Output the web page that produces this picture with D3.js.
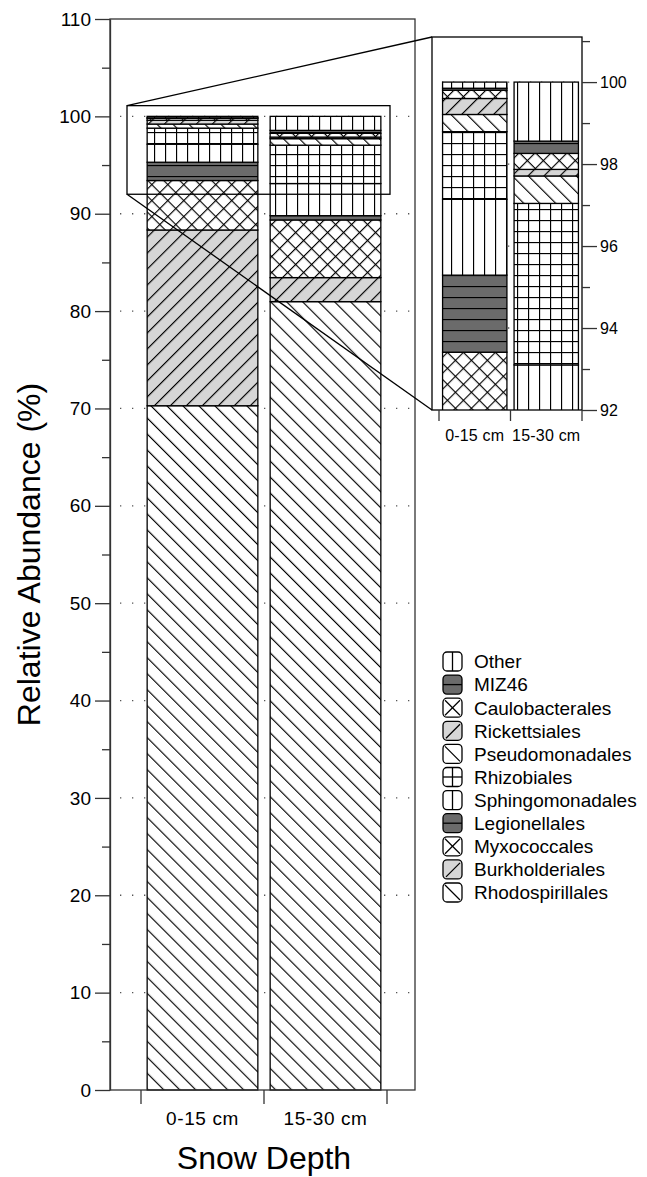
<!DOCTYPE html>
<html><head><meta charset="utf-8">
<script src="https://cdn.jsdelivr.net/npm/d3@7"></script>
<style>
body{margin:0;background:#fff}
svg{display:block}
text{font-family:"Liberation Sans",Arial,Helvetica,sans-serif;fill:#000}
</style>
</head><body>
<svg id="c" width="647" height="1177"></svg>
<script>
// ---------- data ----------
const categories = ["0-15 cm", "15-30 cm"];
const seriesNames = ["Rhodospirillales","Burkholderiales","Myxococcales","Legionellales","Sphingomonadales","Rhizobiales","Pseudomonadales","Rickettsiales","Caulobacterales","MIZ46","Other"];
const rhodospirillales = [70.28, 80.97];
const burkholderiales  = [18.05, 2.47];
const myxococcales     = [5.08, 5.92];
const legionellales    = [1.88, 0.44];
const sphingomonadales = [1.85, 3.30];
const rhizobiales      = [1.65, 3.94];
const pseudomonadales  = [0.42, 0.67];
const rickettsiales    = [0.39, 0.16];
const caulobacterales  = [0.20, 0.39];
const miz46            = [0.05, 0.30];
const other            = [0.15, 1.44];
const seriesValues = [rhodospirillales,burkholderiales,myxococcales,legionellales,sphingomonadales,rhizobiales,pseudomonadales,rickettsiales,caulobacterales,miz46,other];
const yTicks = [0,10,20,30,40,50,60,70,80,90,100,110];
const yMinorTicks = [5,15,25,35,45,55,65,75,85,95,105];
const insetTicks = [92,94,96,98,100];
const insetMinorTicks = [93,95,97,99,101];
const insetRange = [92, 101.1];

// ---------- styles ----------
const kindOf = {Rhodospirillales:"back",Burkholderiales:"fwd",Myxococcales:"cross",Legionellales:"dark",Sphingomonadales:"vert",Rhizobiales:"grid",Pseudomonadales:"back",Rickettsiales:"fwd",Caulobacterales:"cross",MIZ46:"dark",Other:"vert"};
const LIGHT = "#d6d6d6", DARK = "#6b6b6b", LW = 1.3;

const svg = d3.select("#c");
const defs = svg.append("defs");
function pat(id, size, bg, lines, rot){
  const p = defs.append("pattern").attr("id", id).attr("patternUnits","userSpaceOnUse")
    .attr("width", size).attr("height", size);
  if (rot) p.attr("patternTransform", `rotate(${rot})`);
  p.append("rect").attr("width", size).attr("height", size).attr("fill", bg);
  lines.forEach(l => p.append("line").attr("x1",l[0]).attr("y1",l[1]).attr("x2",l[2]).attr("y2",l[3])
    .attr("stroke","#000").attr("stroke-width",LW));
}
const S = 11, D = 11.3;
pat("p-vert", S, "#fff", [[0.5,0,0.5,S]]);
pat("p-grid", S, "#fff", [[0.5,0,0.5,S],[0,0.5,S,0.5]]);
pat("p-dark", S, DARK, [[0,0.5,S,0.5]]);
pat("p-back", D, "#fff", [[0.5,0,0.5,D]], -45);
pat("p-fwd", D, LIGHT, [[0.5,0,0.5,D]], 45);
pat("p-cross", D, "#fff", [[0.5,0,0.5,D],[0,0.5,D,0.5]], 45);

const stack = d3.stack().keys(seriesNames.map((_,i)=>i))(
  categories.map((c,ci)=>{ const o={cat:c}; seriesValues.forEach((v,i)=>o[i]=v[ci]); return o; })
);

// ---------- main chart ----------
const y = d3.scaleLinear().domain([0,110]).range([1090,19]);
const x = d3.scaleBand().domain(categories).range([141,387]);
const plotL = 110, plotR = 415;

// dotted grid
svg.append("g").selectAll("line").data(yTicks.filter(t=>t>0 && t<110)).join("line")
  .attr("x1",120).attr("x2",plotR).attr("y1",d=>y(d)).attr("y2",d=>y(d))
  .attr("stroke","#555").attr("stroke-width",1.3).attr("stroke-dasharray","1.3,10.7");

function drawBars(g, xs, ys){
  const bw = xs.bandwidth()*0.9, off = xs.bandwidth()*0.05;
  stack.forEach((layer,i)=>{
    g.append("g").selectAll("rect").data(layer).join("rect")
      .attr("x", d=>xs(d.data.cat)+off).attr("width", bw)
      .attr("y", d=>ys(d[1])).attr("height", d=>Math.max(0, ys(d[0])-ys(d[1])))
      .attr("fill", `url(#p-${kindOf[seriesNames[i]]})`)
      .attr("stroke","#000").attr("stroke-width",LW);
  });
}
drawBars(svg.append("g"), x, y);

// frame
svg.append("rect").attr("x",plotL).attr("y",y(110)).attr("width",plotR-plotL).attr("height",y(0)-y(110))
  .attr("fill","none").attr("stroke","#333").attr("stroke-width",1.3);

// y axis
const ya = svg.append("g").attr("transform",`translate(${plotL},0)`)
  .call(d3.axisLeft(y).tickValues(yTicks).tickSize(15).tickSizeOuter(0).tickPadding(4));
ya.select(".domain").attr("stroke","#333").attr("stroke-width",1.3);
ya.selectAll(".tick line").attr("stroke","#333").attr("stroke-width",1.3);
ya.selectAll("text").style("font-size","19px").style("font-family","Liberation Sans, Arial, sans-serif");
svg.append("g").attr("transform",`translate(${plotL},0)`)
  .call(d3.axisLeft(y).tickValues(yMinorTicks).tickSize(8).tickFormat(""))
  .call(g=>{g.select(".domain").remove(); g.selectAll("line").attr("stroke","#333").attr("stroke-width",1.3);});

// x axis ticks at band boundaries
const xb = categories.map(c=>x(c)).concat([x(categories[categories.length-1])+x.bandwidth()]);
svg.append("g").selectAll("line").data(xb).join("line")
  .attr("x1",d=>d).attr("x2",d=>d).attr("y1",y(0)).attr("y2",y(0)+14)
  .attr("stroke","#333").attr("stroke-width",1.3);
svg.append("g").selectAll("text").data(categories).join("text")
  .attr("x",d=>x(d)+x.bandwidth()/2).attr("y",y(0)+35).attr("text-anchor","middle")
  .style("font-size","19px").style("letter-spacing","0.6px").text(d=>d);

svg.append("text").attr("x",(xb[0]+xb[xb.length-1])/2).attr("y",1169).attr("text-anchor","middle")
  .style("font-size","32px").text("Snow Depth");
svg.append("text").attr("transform",`translate(40,${(y(0)+y(110))/2}) rotate(-90)`).attr("text-anchor","middle")
  .style("font-size","32px").text("Relative Abundance (%)");

// ---------- inset ----------
const iL = 432, iR = 582;
const y2 = d3.scaleLinear().domain(insetRange).range([410,37]);
const x2 = d3.scaleBand().domain(categories).range([439,582]);
const boxL = 127, boxR = 390;

// zoom box + connectors
svg.append("rect").attr("x",boxL).attr("y",y(insetRange[1])).attr("width",boxR-boxL)
  .attr("height",y(insetRange[0])-y(insetRange[1])).attr("fill","none").attr("stroke","#000").attr("stroke-width",1.3);
svg.append("line").attr("x1",boxL).attr("y1",y(insetRange[1])).attr("x2",iL).attr("y2",y2(insetRange[1]))
  .attr("stroke","#000").attr("stroke-width",1.3);
svg.append("line").attr("x1",boxL).attr("y1",y(insetRange[0])).attr("x2",iL).attr("y2",y2(insetRange[0]))
  .attr("stroke","#000").attr("stroke-width",1.3);

// inset background
svg.append("rect").attr("x",iL).attr("y",y2(insetRange[1])).attr("width",iR-iL)
  .attr("height",y2(insetRange[0])-y2(insetRange[1])).attr("fill","#fff");
defs.append("clipPath").attr("id","iclip").append("rect").attr("x",iL).attr("y",y2(insetRange[1]))
  .attr("width",iR-iL).attr("height",y2(insetRange[0])-y2(insetRange[1]));
svg.append("g").selectAll("line").data(insetTicks.filter(t=>t>92)).join("line")
  .attr("x1",iL+10).attr("x2",iR).attr("y1",d=>y2(d)).attr("y2",d=>y2(d))
  .attr("stroke","#555").attr("stroke-width",1.3).attr("stroke-dasharray","1.3,9.7");
drawBars(svg.append("g").attr("clip-path","url(#iclip)"), x2, y2);
svg.append("rect").attr("x",iL).attr("y",y2(insetRange[1])).attr("width",iR-iL)
  .attr("height",y2(insetRange[0])-y2(insetRange[1])).attr("fill","none").attr("stroke","#000").attr("stroke-width",1.3);

const ra = svg.append("g").attr("transform",`translate(${iR},0)`)
  .call(d3.axisRight(y2).tickValues(insetTicks).tickSize(15).tickSizeOuter(0).tickPadding(3));
ra.select(".domain").remove();
ra.selectAll(".tick line").attr("stroke","#333").attr("stroke-width",1.3);
ra.selectAll("text").style("font-size","16px").style("font-family","Liberation Sans, Arial, sans-serif");
svg.append("g").attr("transform",`translate(${iR},0)`)
  .call(d3.axisRight(y2).tickValues(insetMinorTicks).tickSize(8).tickFormat(""))
  .call(g=>{g.select(".domain").remove(); g.selectAll("line").attr("stroke","#333").attr("stroke-width",1.3);});

const xb2 = categories.map(c=>x2(c)).concat([x2(categories[categories.length-1])+x2.bandwidth()]);
svg.append("g").selectAll("line").data(xb2).join("line")
  .attr("x1",d=>d).attr("x2",d=>d).attr("y1",y2(92)).attr("y2",y2(92)+11)
  .attr("stroke","#333").attr("stroke-width",1.3);
svg.append("g").selectAll("text").data(categories).join("text")
  .attr("x",d=>x2(d)+x2.bandwidth()/2).attr("y",y2(92)+31).attr("text-anchor","middle")
  .style("font-size","16px").style("letter-spacing","0.2px").text(d=>d);

// ---------- legend ----------
const legendOrder = seriesNames.slice().reverse();
const lg = svg.append("g").attr("transform","translate(443,652)");
const rowH = 23.1, isz = 19;
legendOrder.forEach((name,i)=>{
  const g = lg.append("g").attr("transform",`translate(0,${i*rowH})`);
  const k = kindOf[name];
  const fill = k==="dark"?DARK:(k==="fwd"?LIGHT:"#fff");
  g.append("rect").attr("width",isz).attr("height",isz).attr("rx",4).attr("fill",fill)
    .attr("stroke","#000").attr("stroke-width",LW);
  const L = [];
  const m = isz/2, e = 2;
  if (k==="vert") L.push([m,0,m,isz]);
  if (k==="grid") { L.push([m,0,m,isz]); L.push([0,m,isz,m]); }
  if (k==="dark") L.push([0,m,isz,m]);
  if (k==="back") L.push([e,e,isz-e,isz-e]);
  if (k==="fwd") L.push([e+1,isz-e,isz-e,e+1]);
  if (k==="cross") { L.push([e,e,isz-e,isz-e]); L.push([e,isz-e,isz-e,e]); }
  L.forEach(l=>g.append("line").attr("x1",l[0]).attr("y1",l[1]).attr("x2",l[2]).attr("y2",l[3])
    .attr("stroke","#000").attr("stroke-width",LW));
  g.append("text").attr("x",31).attr("y",isz/2).attr("dy","0.36em").style("font-size","19px").text(name);
});
</script>
</body></html>
